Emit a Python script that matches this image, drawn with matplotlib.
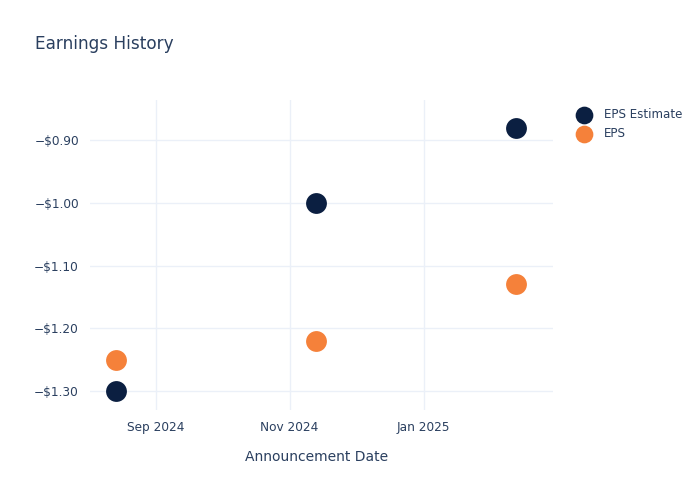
import matplotlib
matplotlib.use("Agg")
import matplotlib.pyplot as plt
import matplotlib.dates as mdates
from matplotlib.ticker import FuncFormatter, FixedLocator
import pandas as pd

dates = ["2024-08-14", "2024-11-13", "2025-02-12"]
eps_estimate = [-1.30, -1.00, -0.88]
eps_actual = [-1.25, -1.22, -1.13]
x_ticks = ["2024-09-01", "2024-11-01", "2025-01-01"]
x_tick_labels = ["Sep 2024", "Nov 2024", "Jan 2025"]
y_ticks = [-1.30, -1.20, -1.10, -1.00, -0.90]

text_color = "#2a3f5f"
grid_color = "#ebf0f8"
navy = "#0b1f41"
orange = "#f5813a"

plt.rcParams['font.family'] = ['DejaVu Sans']
fig = plt.figure(figsize=(7, 5), dpi=100)
ax = fig.add_axes([90/700, 90/500, (553-90)/700, (410-100)/500])

d = pd.to_datetime(dates)
ax.scatter(d, eps_estimate, s=225, color=navy, label="EPS Estimate", zorder=3, linewidths=0)
ax.scatter(d, eps_actual, s=225, color=orange, label="EPS", zorder=3, linewidths=0)

ax.set_xlim(pd.Timestamp("2024-08-02"), pd.Timestamp("2025-03-01"))
ax.set_ylim(-1.330, -0.836)

ax.xaxis.set_major_locator(FixedLocator([mdates.date2num(pd.Timestamp(t)) for t in x_ticks]))
ax.set_xticklabels(x_tick_labels)
ax.yaxis.set_major_locator(FixedLocator(y_ticks))
ax.yaxis.set_major_formatter(FuncFormatter(lambda v, p: ("\u2212" if v < 0 else "") + "${:.2f}".format(abs(v))))

for s in ax.spines.values():
    s.set_visible(False)
ax.grid(True, color=grid_color, linewidth=1)
ax.set_axisbelow(True)
ax.tick_params(axis='both', length=0, colors=text_color, labelsize=8.7)
ax.tick_params(axis='y', pad=8)
ax.tick_params(axis='x', pad=8)

ax.set_xlabel("Announcement Date", color=text_color, fontsize=10)
ax.xaxis.set_label_coords(0.49, -0.128)
fig.text(35/700, 1 - 44/500, "Earnings History", color=text_color, fontsize=12.2, va='center', ha='left')

leg = ax.legend(loc='upper left', bbox_to_anchor=(567/700, 1 - 103/500), bbox_transform=fig.transFigure,
                frameon=False, fontsize=8.6, handletextpad=0.7, labelspacing=0.5, borderaxespad=0,
                markerscale=0.85)
for t in leg.get_texts():
    t.set_color(text_color)

fig.savefig("out.png", dpi=100)
